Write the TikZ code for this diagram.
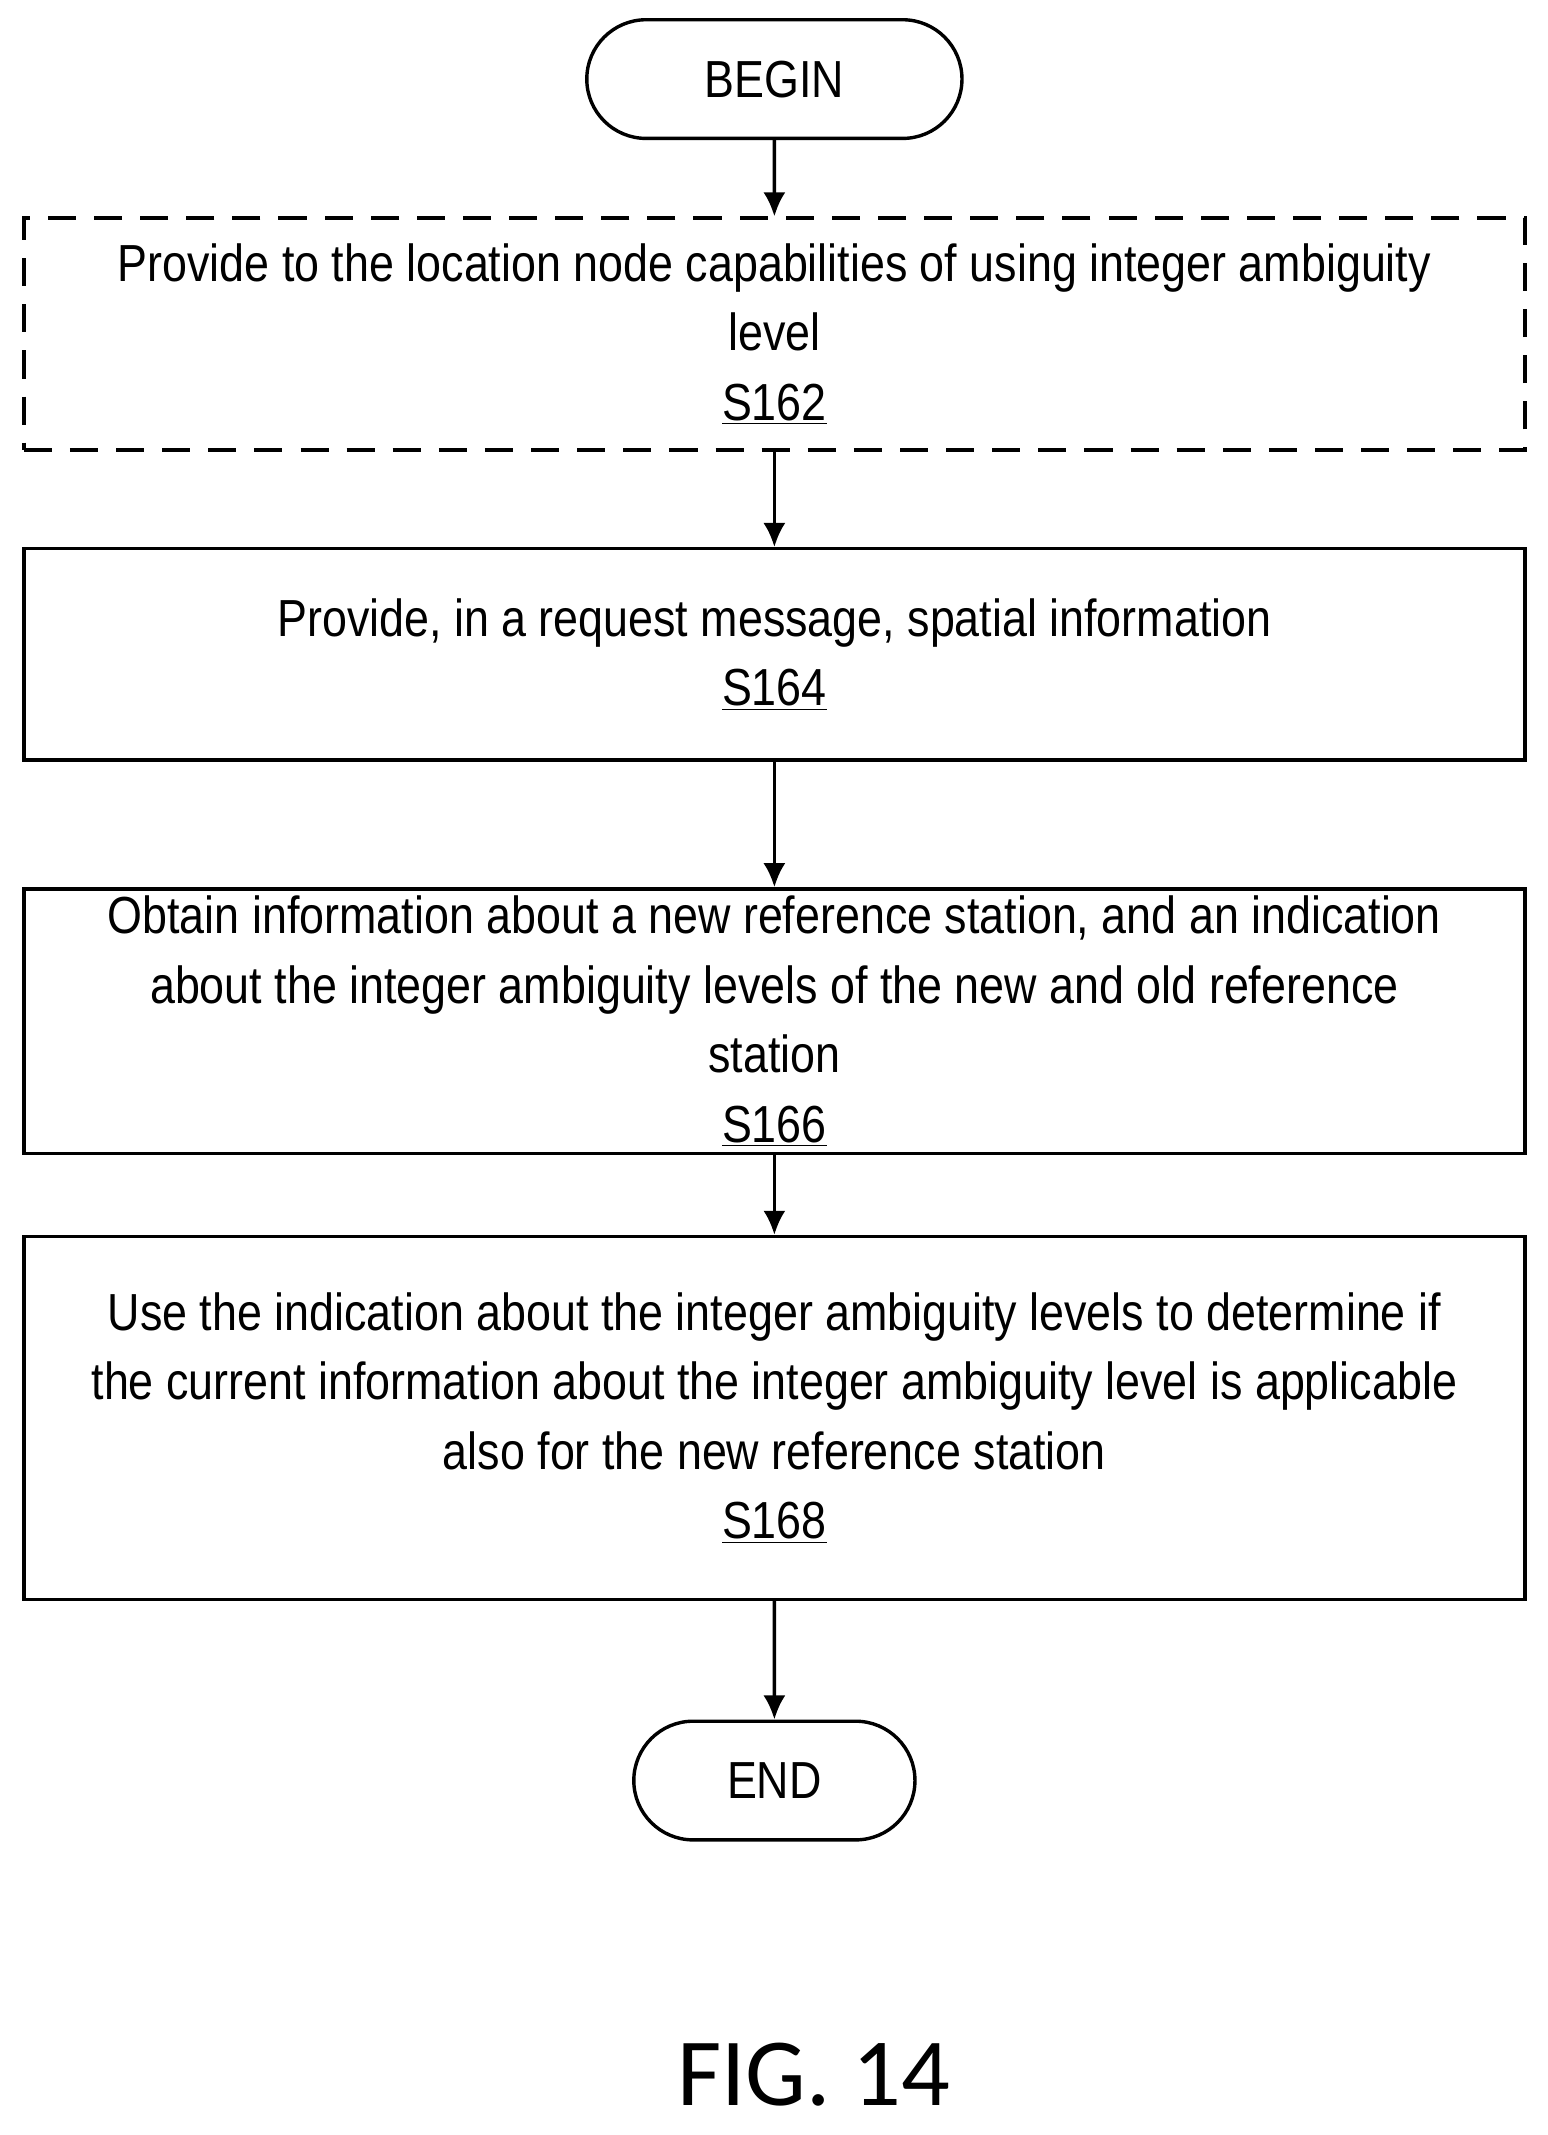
\documentclass[tikz,border=0pt]{standalone}
\usepackage{fontspec}
\setmainfont{Liberation Sans}[FakeStretch=0.86]
\newfontfamily\figfont{Carlito}
\usetikzlibrary{arrows.meta,shapes.misc}
\tikzset{>={Latex[width=11pt,length=12pt]}}
\tikzset{
  stepbox/.style={draw, line width=1.7pt, minimum width=748.7pt, align=center,
    inner sep=0pt, font=\fontsize{26}{34.7}\selectfont},
  term/.style={draw, line width=1.7pt, rounded rectangle, minimum height=59.2pt,
    font=\fontsize{26}{30}\selectfont},
  flow/.style={->, line width=1.7pt}
}
\begin{document}
\begin{tikzpicture}[x=0.68pt,y=-0.68pt]

  \useasboundingbox (0,0) rectangle (1135,1566);

  \node[term, minimum width=193.8pt] (begin) at (568,58) {BEGIN};

  \node[stepbox, dashed, dash pattern=on 14pt off 9pt, minimum height=115.6pt] (s162) at (568,245)
    {Provide to the location node capabilities of using integer ambiguity\\level\\\underline{S162}};

  \node[stepbox, minimum height=105.4pt] (s164) at (568,480)
    {Provide, in a request message, spatial information\\\underline{S164}};

  \node[stepbox, minimum height=131.9pt] (s166) at (568,749)
    {Obtain information about a new reference station, and an indication\\about the integer ambiguity levels of the new and old reference\\station\\\underline{S166}};

  \node[stepbox, minimum height=180.9pt] (s168) at (568,1040)
    {Use the indication about the integer ambiguity levels to determine if\\the current information about the integer ambiguity level is applicable\\also for the new reference station\\\underline{S168}};

  \node[term, minimum width=146.9pt] (end) at (568,1306) {END};

  \node[font=\figfont\fontsize{48}{54}\selectfont] (fig) at (597,1522) {FIG. 14};

  \draw[flow] (begin) -- (s162);
  \draw[flow] (s162) -- (s164);
  \draw[flow] (s164) -- (s166);
  \draw[flow] (s166) -- (s168);
  \draw[flow] (s168) -- (end);

\end{tikzpicture}
\end{document}
